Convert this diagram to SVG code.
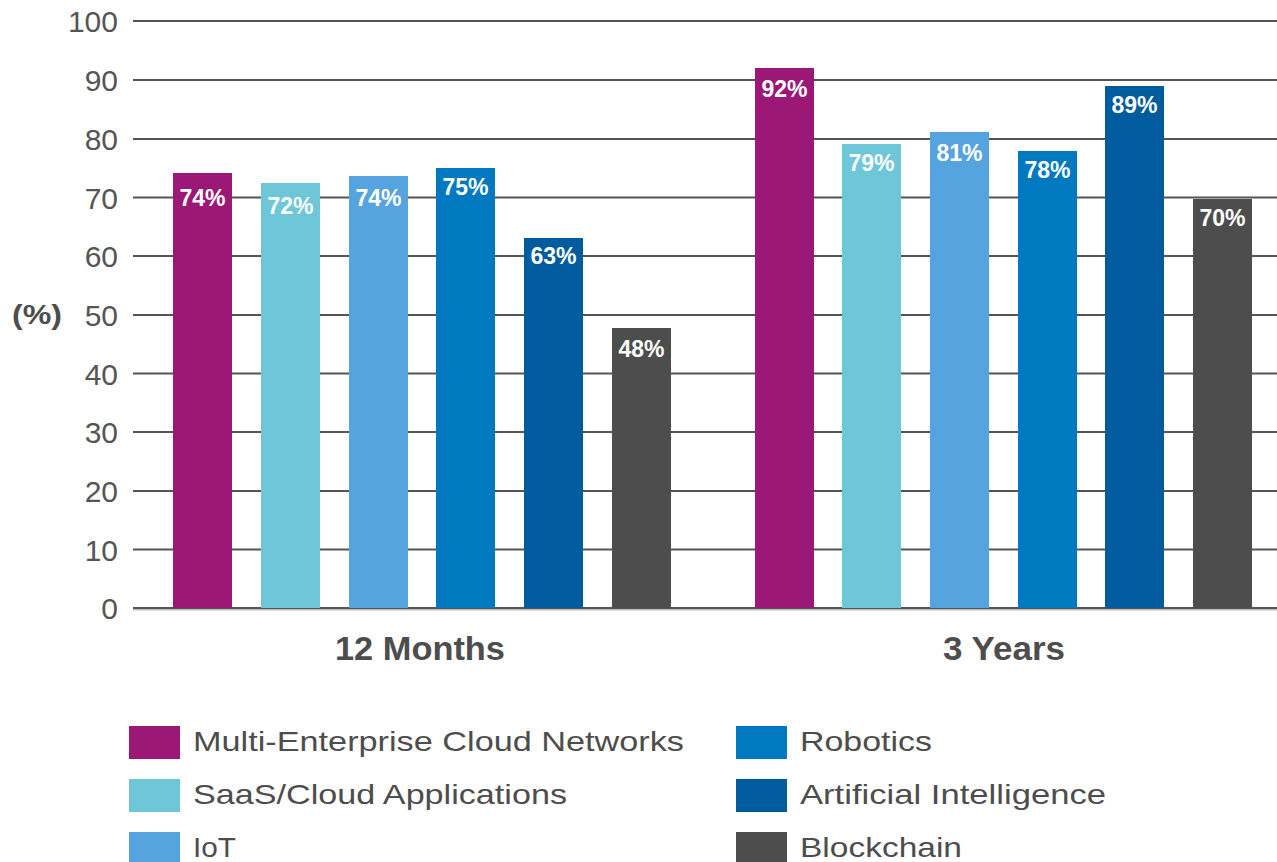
<svg xmlns="http://www.w3.org/2000/svg" width="1277" height="862" viewBox="0 0 1277 862">
<style>
.grid{stroke:#555;stroke-width:2.2}
.ylab{font-family:"Liberation Sans",Arial,sans-serif;font-size:30px;fill:#555;text-anchor:end}
.val{font-family:"Liberation Sans",Arial,sans-serif;font-size:23px;font-weight:bold;fill:#fff;text-anchor:middle}
.cat{font-family:"Liberation Sans",Arial,sans-serif;font-size:33px;font-weight:bold;fill:#4d4d4d;text-anchor:middle}
.leg{font-family:"Liberation Sans",Arial,sans-serif;font-size:28px;fill:#4d4d4d}
.c1{fill:#9b1877}.c2{fill:#6ec6d9}.c3{fill:#55a4df}.c4{fill:#0079c1}.c5{fill:#005c9d}.c6{fill:#4d4d4d}
</style>
<rect width="1277" height="862" fill="#fff"/>
<g id="grid">
<line class="grid" x1="133" y1="21" x2="1277" y2="21"/>
<line class="grid" x1="133" y1="80" x2="1277" y2="80"/>
<line class="grid" x1="133" y1="139" x2="1277" y2="139"/>
<line class="grid" x1="133" y1="197.5" x2="1277" y2="197.5"/>
<line class="grid" x1="133" y1="256" x2="1277" y2="256"/>
<line class="grid" x1="133" y1="315" x2="1277" y2="315"/>
<line class="grid" x1="133" y1="373.5" x2="1277" y2="373.5"/>
<line class="grid" x1="133" y1="432" x2="1277" y2="432"/>
<line class="grid" x1="133" y1="491" x2="1277" y2="491"/>
<line class="grid" x1="133" y1="549.5" x2="1277" y2="549.5"/>
<line x1="133" y1="609.5" x2="1277" y2="609.5" stroke="#bbb" stroke-width="2"/>
<line class="grid" x1="133" y1="608" x2="1277" y2="608"/>
</g>
<g id="yaxis">
<text class="ylab" x="118" y="32">100</text>
<text class="ylab" x="118" y="91">90</text>
<text class="ylab" x="118" y="150">80</text>
<text class="ylab" x="118" y="208.5">70</text>
<text class="ylab" x="118" y="267">60</text>
<text class="ylab" x="118" y="326">50</text>
<text class="ylab" x="118" y="384.5">40</text>
<text class="ylab" x="118" y="443">30</text>
<text class="ylab" x="118" y="502">20</text>
<text class="ylab" x="118" y="560.5">10</text>
<text class="ylab" x="118" y="619">0</text>
<text x="12" y="324" font-family="Liberation Sans, Arial, sans-serif" font-size="27" font-weight="bold" fill="#4d4d4d" textLength="50" lengthAdjust="spacingAndGlyphs">(%)</text>
</g>
<g id="bars-12months">
<rect class="c1" x="173" y="173" width="59" height="435"/>
<rect class="c2" x="261" y="183" width="59" height="425"/>
<rect class="c3" x="349" y="176" width="59" height="432"/>
<rect class="c4" x="436" y="168" width="59" height="440"/>
<rect class="c5" x="524" y="238" width="59" height="370"/>
<rect class="c6" x="612" y="328" width="59" height="280"/>
<text class="val" x="202.5" y="206">74%</text>
<text class="val" x="290.5" y="214">72%</text>
<text class="val" x="378.5" y="206">74%</text>
<text class="val" x="465.5" y="195">75%</text>
<text class="val" x="553.5" y="264">63%</text>
<text class="val" x="641.5" y="357">48%</text>
</g>
<g id="bars-3years">
<rect class="c1" x="755" y="68" width="59" height="540"/>
<rect class="c2" x="842" y="144" width="59" height="464"/>
<rect class="c3" x="930" y="132" width="59" height="476"/>
<rect class="c4" x="1018" y="151" width="59" height="457"/>
<rect class="c5" x="1105" y="86" width="59" height="522"/>
<rect class="c6" x="1193" y="199" width="59" height="409"/>
<text class="val" x="784.5" y="97">92%</text>
<text class="val" x="871.5" y="171">79%</text>
<text class="val" x="959.5" y="161">81%</text>
<text class="val" x="1047.5" y="178">78%</text>
<text class="val" x="1134.5" y="113">89%</text>
<text class="val" x="1222.5" y="226">70%</text>
</g>
<g id="categories">
<text class="cat" x="420" y="660" textLength="170" lengthAdjust="spacingAndGlyphs">12 Months</text>
<text class="cat" x="1004" y="660" textLength="122" lengthAdjust="spacingAndGlyphs">3 Years</text>
</g>
<g id="legend">
<rect class="c1" x="129" y="726" width="51" height="33"/>
<text class="leg" x="193" y="751" textLength="491" lengthAdjust="spacingAndGlyphs">Multi-Enterprise Cloud Networks</text>
<rect class="c2" x="129" y="779" width="51" height="33"/>
<text class="leg" x="193" y="804" textLength="374" lengthAdjust="spacingAndGlyphs">SaaS/Cloud Applications</text>
<rect class="c3" x="129" y="832" width="51" height="33"/>
<text class="leg" x="193" y="857" textLength="43" lengthAdjust="spacingAndGlyphs">IoT</text>
<rect class="c4" x="736" y="726" width="51" height="33"/>
<text class="leg" x="800" y="751" textLength="132" lengthAdjust="spacingAndGlyphs">Robotics</text>
<rect class="c5" x="736" y="779" width="51" height="33"/>
<text class="leg" x="800" y="804" textLength="306" lengthAdjust="spacingAndGlyphs">Artificial Intelligence</text>
<rect class="c6" x="736" y="832" width="51" height="33"/>
<text class="leg" x="800" y="857" textLength="162" lengthAdjust="spacingAndGlyphs">Blockchain</text>
</g>
</svg>
